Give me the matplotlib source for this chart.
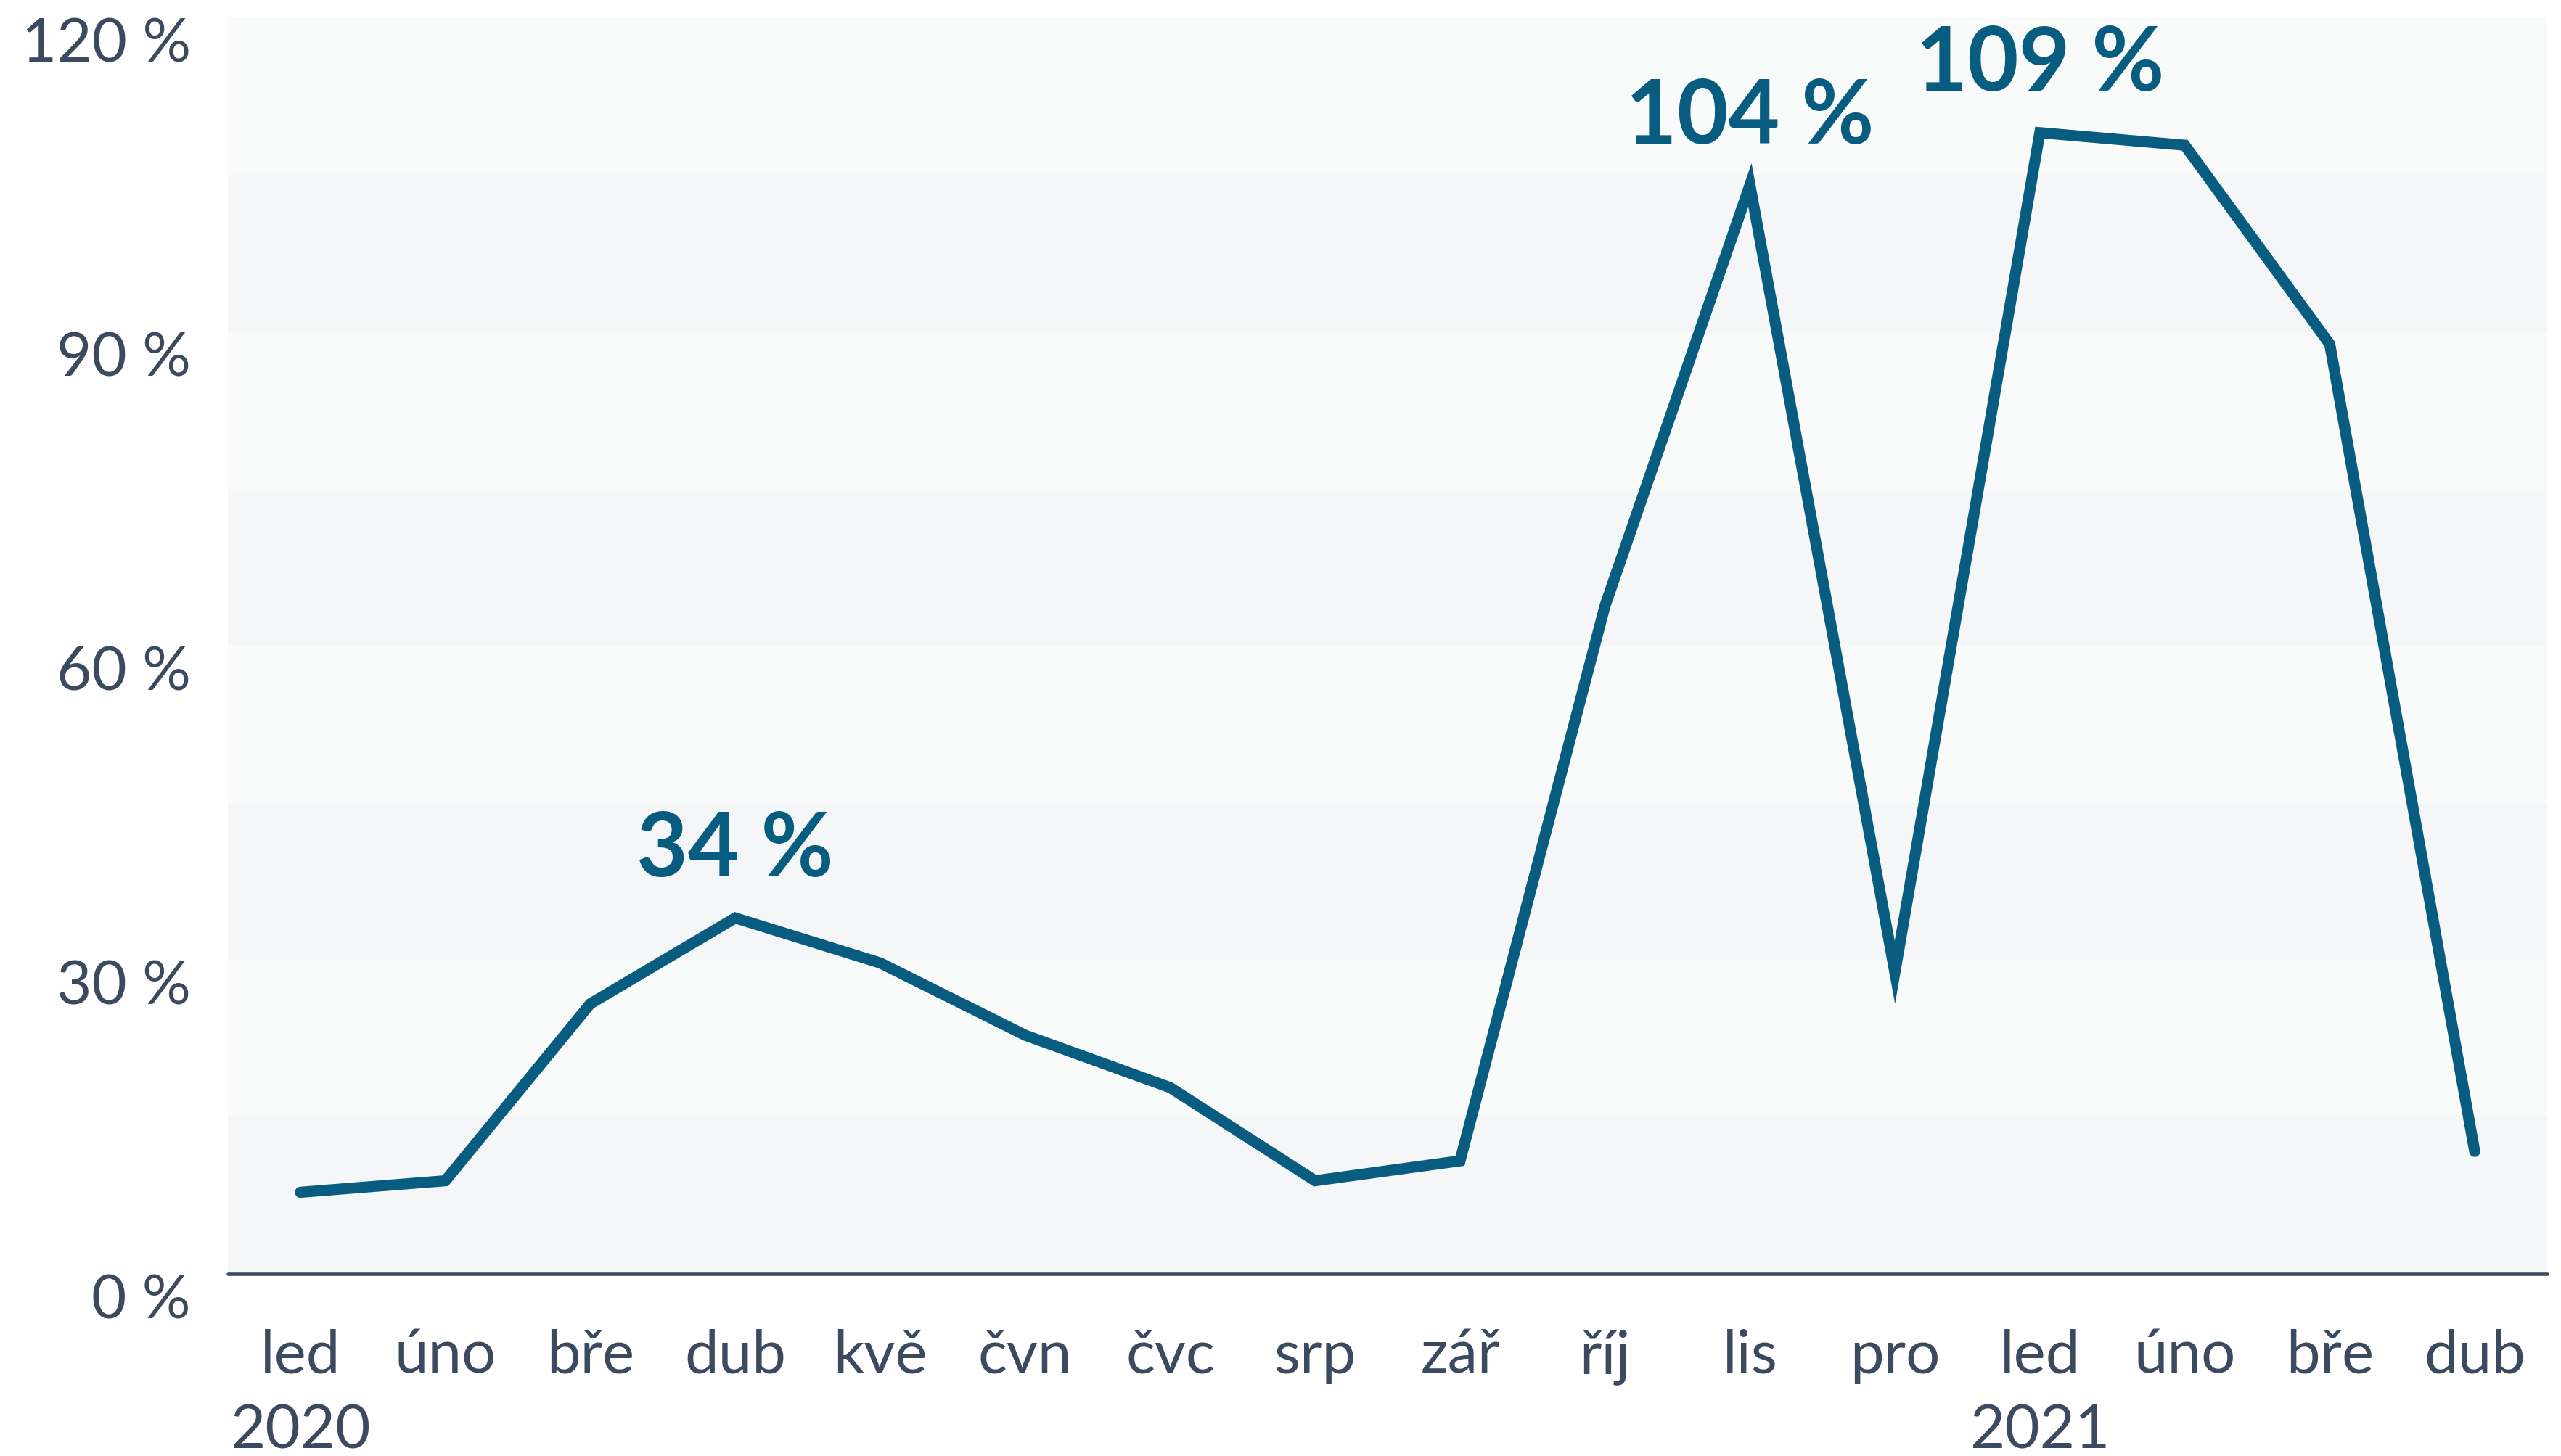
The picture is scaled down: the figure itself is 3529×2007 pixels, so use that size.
import matplotlib
matplotlib.use("Agg")
import matplotlib.pyplot as plt
import matplotlib.transforms as mtransforms

# data
months = ["led", "úno", "bře", "dub", "kvě", "čvn", "čvc", "srp", "zář",
          "říj", "lis", "pro", "led", "úno", "bře", "dub"]
years = {0: "2020", 12: "2021"}
values = [7.8, 8.9, 25.8, 34.0, 29.7, 22.8, 17.8, 8.9, 10.8,
          63.8, 104.0, 28.8, 109.0, 107.8, 88.8, 11.7]
highlights = {3: "34 %", 10: "104 %", 12: "109 %"}
y_ticks = [0, 30, 60, 90, 120]

line_col = "#085c80"
text_col = "#3b4a5e"

plt.rcParams['font.family'] = ['Lato', 'DejaVu Sans']

fig = plt.figure(figsize=(35.29, 20.08), dpi=100)
ax = fig.add_axes([0.089, 0.125, 0.9056, 0.8625])

# subtle banded background
band_cols = ["#f5f6f7", "#f9fafa"]
for i, lo in enumerate(range(0, 120, 15)):
    ax.axhspan(lo, lo + 15, color=band_cols[i % 2], lw=0, zorder=0)

x = list(range(len(values)))
ax.plot(x, values, color=line_col, lw=11, solid_joinstyle="miter",
        solid_capstyle="round", zorder=3)

# labels over the peaks
for i, txt in highlights.items():
    ax.annotate(txt, (i, values[i]), xytext=(0, 27), textcoords="offset points",
                ha="center", va="bottom", fontsize=88, fontweight="bold",
                color=line_col, zorder=4)

ax.set_xlim(-0.5, len(values) - 0.5)
ax.set_ylim(0, 120)

ax.set_yticks(y_ticks)
ax.set_yticklabels([f"{v} %" for v in y_ticks])
ax.tick_params(axis="y", length=0, pad=37, labelsize=60, labelcolor=text_col)
# labels sit a bit below their value, like the original
off = mtransforms.ScaledTranslation(0, -0.30, fig.dpi_scale_trans)
for lab in ax.get_yticklabels():
    lab.set_transform(lab.get_transform() + off)

ax.set_xticks(x)
ax.set_xticklabels([m + ("\n" + years[i] if i in years else "")
                    for i, m in enumerate(months)], linespacing=1.45)
ax.tick_params(axis="x", length=0, pad=54, labelsize=60, labelcolor=text_col)

for s in ["top", "right", "left", "bottom"]:
    ax.spines[s].set_visible(False)
ax.axhline(0, color=text_col, lw=3.3, solid_capstyle="round", zorder=5, clip_on=False)

fig.savefig("out.png", dpi=100, facecolor="white")
